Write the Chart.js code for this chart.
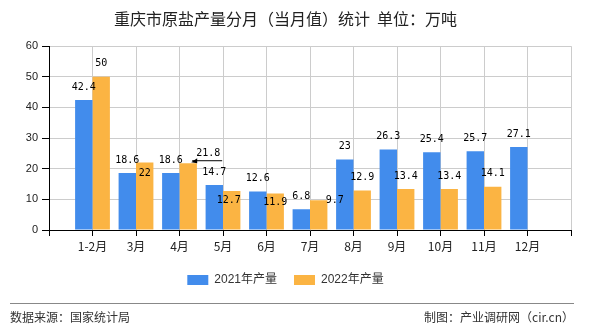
<!DOCTYPE html>
<html>
<head>
<meta charset="utf-8">
<script src="https://cdn.jsdelivr.net/npm/chart.js@4.4.0/dist/chart.umd.min.js"></script>
<style>
body { margin: 0; background: #fff; }
#wrap { position: relative; width: 590px; height: 330px; overflow: hidden; }
#grafico { position: absolute; left: 0; top: 0; }
#pie {
    position: absolute; left: 10px; top: 303px; width: 564px;
    border-top: 1px solid #888;
    font-family: "Noto Sans CJK SC", sans-serif; font-size: 12px; color: #333;
    line-height: 16px; padding-top: 5px;
}
#pie .der { position: absolute; right: 0; top: 5px; }
</style>
</head>
<body>
<div id="wrap">
    <canvas id="grafico" width="590" height="310"></canvas>
    <div id="pie">
        <span>数据来源：国家统计局</span>
        <span class="der">制图：产业调研网（cir.cn）</span>
    </div>
</div>
<script>
// datos
const meses = ['1-2月', '3月', '4月', '5月', '6月', '7月', '8月', '9月', '10月', '11月', '12月'];
const produccion2021 = [42.4, 18.6, 18.6, 14.7, 12.6, 6.8, 23, 26.3, 25.4, 25.7, 27.1];
const produccion2022 = [50, 22, 21.8, 12.7, 11.9, 9.7, 12.9, 13.4, 13.4, 14.1, null];
const ticksY = [0, 10, 20, 30, 40, 50, 60];

// desplazamiento de etiquetas (px) para la serie 2022, como en el original
const desplazamiento2022 = {
    '3月': [0, 11],
    '4月': [20, -10],
    '5月': [-3, 9],
    '6月': [0, 9],
    '7月': [16, 0]
};

const etiquetas = [''].concat(meses, ['']);
const rellenar = arr => [null].concat(arr, [null]);

const etiquetasBarras = {
    id: 'etiquetasBarras',
    afterDatasetsDraw(chart) {
        const ctx = chart.ctx;
        ctx.save();
        ctx.font = '10px "DejaVu Sans Mono"';
        ctx.fillStyle = '#000';
        ctx.textAlign = 'center';
        ctx.textBaseline = 'middle';
        chart.data.datasets.forEach((ds, i) => {
            const meta = chart.getDatasetMeta(i);
            meta.data.forEach((barra, j) => {
                const v = ds.data[j];
                if (v == null) return;
                let dx = 0, dy = -13;
                if (i === 1 && desplazamiento2022[etiquetas[j]]) {
                    [dx, dy] = desplazamiento2022[etiquetas[j]];
                }
                ctx.fillText(String(v), barra.x + dx, barra.y + dy);
                // linea guia para 4月
                if (i === 1 && etiquetas[j] === '4月') {
                    ctx.strokeStyle = '#000';
                    ctx.lineWidth = 1;
                    ctx.beginPath();
                    ctx.moveTo(barra.x + 4, barra.y - 2.5);
                    ctx.lineTo(barra.x + 34, barra.y - 2.5);
                    ctx.stroke();
                    ctx.beginPath();
                    ctx.moveTo(barra.x + 3, barra.y - 1);
                    ctx.lineTo(barra.x + 9, barra.y - 5);
                    ctx.lineTo(barra.x + 9, barra.y);
                    ctx.fill();
                }
            });
        });
        ctx.restore();
    }
};

const ctx = document.getElementById('grafico').getContext('2d');
new Chart(ctx, {
    type: 'bar',
    data: {
        labels: etiquetas,
        datasets: [
            {
                label: '2021年产量',
                data: rellenar(produccion2021),
                backgroundColor: '#428cec',
                categoryPercentage: 0.8,
                barPercentage: 1.0
            },
            {
                label: '2022年产量',
                data: rellenar(produccion2022),
                backgroundColor: '#fbb443',
                categoryPercentage: 0.8,
                barPercentage: 1.0
            }
        ]
    },
    options: {
        responsive: false,
        animation: false,
        devicePixelRatio: 1,
        layout: { padding: { left: 0, right: 19, top: 0, bottom: 14 } },
        plugins: {
            title: {
                display: true,
                text: '重庆市原盐产量分月（当月值）统计  单位：万吨',
                color: '#222',
                font: { family: '"Noto Sans CJK SC"', size: 16, weight: 'normal' },
                padding: { top: 9, bottom: 18 }
            },
            legend: {
                position: 'bottom',
                labels: {
                    boxWidth: 21,
                    boxHeight: 10,
                    padding: 17,
                    color: '#333',
                    font: { family: '"Liberation Sans", "Noto Sans CJK SC"', size: 12 }
                }
            },
            tooltip: { enabled: false }
        },
        scales: {
            x: {
                offset: false,
                grid: { color: '#ccc', tickColor: '#000', tickLength: 6, offset: false },
                border: { color: '#000' },
                ticks: {
                    autoSkip: false, maxRotation: 0, padding: 3,
                    color: '#222',
                    font: { family: '"Noto Sans CJK SC"', size: 12 }
                },
                afterFit(scale) { scale.height = 27; }
            },
            y: {
                min: 0,
                max: 60,
                afterBuildTicks(scale) { scale.ticks = ticksY.map(v => ({ value: v })); },
                grid: { color: '#ccc', tickColor: '#000', tickLength: 7 },
                border: { color: '#000' },
                ticks: {
                    padding: 4,
                    color: '#222',
                    font: { family: '"Liberation Sans"', size: 11 }
                },
                afterFit(scale) { scale.width = 49; }
            }
        }
    },
    plugins: [etiquetasBarras]
});
</script>
</body>
</html>
